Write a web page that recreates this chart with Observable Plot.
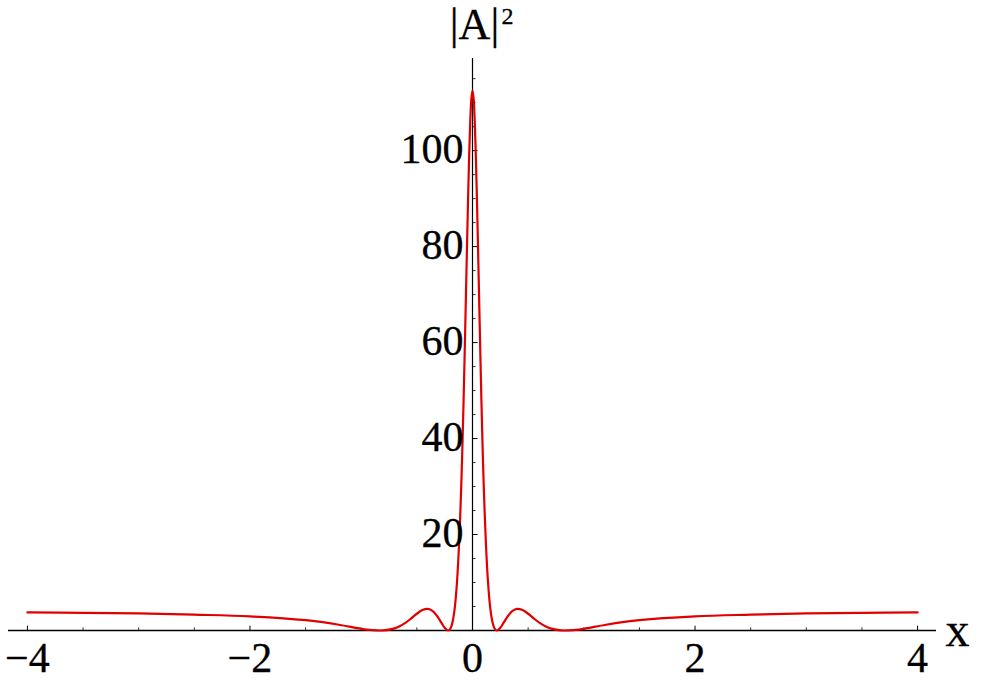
<!DOCTYPE html>
<html>
<head>
<meta charset="utf-8">
<script src="https://cdn.jsdelivr.net/npm/d3@7"></script>
<script src="https://cdn.jsdelivr.net/npm/@observablehq/plot@0.6"></script>
<style>
  html, body { margin: 0; padding: 0; background: #fff; }
  #chart svg { display: block; }
</style>
</head>
<body>
<div id="chart"></div>
<script>
// Curve samples: x and |A|^2
const xs = [-4.0, -3.5, -3.0, -2.5, -2.0, -1.5, -1.2, -1.0, -0.9, -0.83, -0.8, -0.7, -0.6, -0.55, -0.5, -0.45, -0.4, -0.36, -0.32, -0.28, -0.25, -0.22, -0.2, -0.18, -0.16, -0.14, -0.12, -0.1, -0.09, -0.08, -0.07, -0.06, -0.05, -0.04, -0.03, -0.02, -0.01,
  0,
  0.01, 0.02, 0.03, 0.04, 0.05, 0.06, 0.07, 0.08, 0.09, 0.1, 0.12, 0.14, 0.16, 0.18, 0.2, 0.22, 0.25, 0.28, 0.32, 0.36, 0.4, 0.45, 0.5, 0.55, 0.6, 0.7, 0.8, 0.83, 0.9, 1.0, 1.2, 1.5, 2.0, 2.5, 3.0, 3.5, 4.0];
const ys = [3.76, 3.68, 3.55, 3.3, 2.95, 2.15, 1.2, 0.35, 0.09, 0.0, 0.02, 0.44, 1.65, 2.54, 3.49, 4.25, 4.49, 4.09, 3.08, 1.63, 0.55, 0.0, 0.34, 1.7, 4.6, 9.9, 18.4, 30.9, 38.9, 48.0, 58.1, 68.7, 79.5, 89.8, 99.0, 106.2, 110.9,
  112.5,
  110.9, 106.2, 99.0, 89.8, 79.5, 68.7, 58.1, 48.0, 38.9, 30.9, 18.4, 9.9, 4.6, 1.7, 0.34, 0.0, 0.55, 1.63, 3.08, 4.09, 4.49, 4.25, 3.49, 2.54, 1.65, 0.44, 0.02, 0.0, 0.09, 0.35, 1.2, 2.15, 2.95, 3.3, 3.55, 3.68, 3.76];

// Ticks
const xMajor = [-4, -2, 0, 2, 4];
const xMajorLabels = ["\u22124", "\u22122", "0", "2", "4"];
const xMinor = [-3.5, -3, -2.5, -1.5, -1, -0.5, 0.5, 1, 1.5, 2.5, 3, 3.5];
const yMajor = [20, 40, 60, 80, 100];
const yMinor = [5, 10, 15, 25, 30, 35, 45, 50, 55, 65, 70, 75, 85, 90, 95, 105, 110, 115];

const xDomain = [-4.17, 4.17];
const yDomain = [0, 119.2];

const curve = xs.map((x, i) => ({x, y: ys[i]}));

const font = "'Liberation Serif', 'Times New Roman', serif";
// tick lengths in data units
const xTickMaj = 0.9, xTickMin = 0.56;   // along y
const yTickMaj = 0.05, yTickMin = 0.032; // along x

const txt = {fill: "#000", stroke: "#000", strokeWidth: 0.3};

const plot = Plot.plot({
  width: 1000,
  height: 686,
  marginLeft: 8,
  marginRight: 64,
  marginTop: 58,
  marginBottom: 56,
  x: {domain: xDomain, axis: null},
  y: {domain: yDomain, axis: null},
  style: {fontFamily: font, background: "#fff", overflow: "visible"},
  marks: [
    // axes lines
    Plot.ruleY([0], {stroke: "#000", strokeWidth: 1.4}),
    Plot.ruleX([0], {stroke: "#000", strokeWidth: 1.2}),
    // x ticks (upward)
    Plot.ruleX(xMajor, {x: d => d, y1: 0, y2: xTickMaj, stroke: "#000", strokeWidth: 1}),
    Plot.ruleX(xMinor, {x: d => d, y1: 0, y2: xTickMin, stroke: "#000", strokeWidth: 0.8}),
    // y ticks (to the right)
    Plot.ruleY(yMajor, {y: d => d, x1: 0, x2: yTickMaj, stroke: "#000", strokeWidth: 1}),
    Plot.ruleY(yMinor, {y: d => d, x1: 0, x2: yTickMin, stroke: "#000", strokeWidth: 0.8}),
    // curve
    Plot.line(curve, {x: "x", y: "y", stroke: "#e00000", strokeWidth: 2.2, curve: "catmull-rom"}),
    // tick labels
    Plot.text(xMajor, {x: d => d, y: 0, text: (d, i) => xMajorLabels[i], dy: 28, fontSize: 42, ...txt}),
    Plot.text(yMajor, {x: 0, y: d => d, text: d => String(d), textAnchor: "end", dx: -9, dy: -1, fontSize: 42, ...txt}),
    // axis labels
    Plot.text(["x"], {x: xDomain[1], y: 0, text: d => d, textAnchor: "start", lineAnchor: "bottom", dx: 9, dy: 15, fontSize: 48, ...txt}),
    Plot.text(["|A|"], {x: 0, y: yDomain[1], text: d => d, textAnchor: "middle", lineAnchor: "bottom", dx: 2, dy: -20, fontSize: 44, ...txt}),
    Plot.text(["2"], {x: 0, y: yDomain[1], text: d => d, textAnchor: "start", lineAnchor: "bottom", dx: 29, dy: -35, fontSize: 24, ...txt})
  ]
});
document.getElementById("chart").appendChild(plot);
</script>
</body>
</html>
